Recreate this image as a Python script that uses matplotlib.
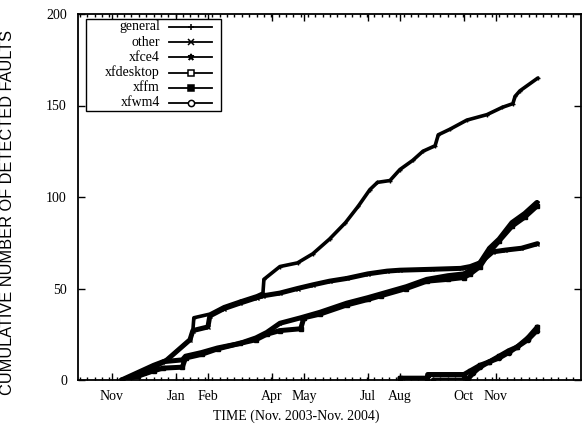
import numpy as np
import matplotlib
matplotlib.use("Agg")
import matplotlib.pyplot as plt
from matplotlib.lines import Line2D
from matplotlib.patches import Rectangle

plt.rcParams['font.family'] = ['Liberation Serif', 'DejaVu Serif']

# x values: months since Nov 1, 2003
tick_pos = [0, 2, 3, 5, 6, 8, 9, 11, 12]
tick_labels = ["Nov", "Jan", "Feb", "Apr", "May", "Jul", "Aug", "Oct", "Nov"]

names = ["general", "other", "xfce4", "xfdesktop", "xffm", "xfwm4"]
markers = ["+", "x", "*", "s", "s", "o"]
marker_fill = ["black", "black", "black", "white", "black", "white"]

general_m = [0.35, 1.0, 1.72, 2.44, 2.53, 2.56, 3.06, 3.5, 4.0, 4.53, 4.72, 4.75, 5.25, 5.8,
             6.28, 6.8, 7.3, 7.7, 8.06, 8.3, 8.69, 9.0, 9.4, 9.72, 10.1, 10.2, 10.56, 11.09,
             11.72, 12.2, 12.53, 12.6, 12.75, 13.31]
general_v = [0, 4, 11, 22, 27, 34, 36, 40, 43, 46, 47.5, 55, 62, 64, 69, 77, 86, 95, 104, 108,
             109, 115, 120, 125, 128, 134, 137, 142, 145, 149, 151, 155, 158, 165]

other_m = [0.35, 1.0, 1.72, 2.44, 2.53, 3.0, 3.06, 3.5, 4.0, 4.53, 4.72, 5.25, 5.8, 6.28, 6.8,
           7.34, 8.0, 8.6, 9.0, 10.0, 10.9, 11.2, 11.5, 11.9, 12.3, 12.8, 13.3]
other_v = [0, 4, 11, 22, 27, 29, 35, 39, 42, 45, 46, 47.5, 50, 52, 54, 55.5, 58, 59.5, 60, 60.5,
           61, 62, 64, 70, 71, 72, 74.5]

xfce4_m = [0.3, 0.8, 1.3, 1.6, 2.2, 2.3, 2.8, 3.3, 4.0, 4.5, 4.84, 5.25, 5.9, 6.5, 7.34, 8.0,
           8.4, 9.2, 9.84, 10.5, 11.0, 11.2, 11.5, 11.8, 12.1, 12.5, 12.9, 13.28]
xfce4_v = [0, 4, 8, 10, 11, 13, 15, 17.5, 20, 23, 26, 31, 34, 37, 42, 45, 47, 51, 55, 57, 58,
           60, 64, 72, 77, 86, 91, 97]

xffm_m = [0.3, 0.8, 1.3, 1.6, 2.2, 2.3, 2.8, 3.3, 4.0, 4.5, 4.84, 5.25, 5.9, 6.0, 6.5, 7.34,
          8.0, 8.4, 9.2, 9.84, 10.5, 11.0, 11.2, 11.5, 11.8, 12.1, 12.5, 12.9, 13.28]
xffm_v = [0, 2, 5, 6.5, 7, 12, 14, 17, 20, 22, 25, 27, 28, 34, 36, 41, 44, 46, 50, 54, 55, 56,
          58, 62, 70, 76, 84, 89, 95]

xfdesktop_m = [9.0, 9.85, 9.87, 11.0, 11.2, 11.5, 11.8, 12.1, 12.4, 12.66, 13.0, 13.3]
xfdesktop_v = [1, 1, 3, 3, 5, 8, 10, 13, 16, 18, 23, 29]

xfwm4_m = [10.05, 11.1, 11.3, 11.5, 11.8, 12.1, 12.4, 12.66, 13.0, 13.28]
xfwm4_v = [0, 0, 4, 7, 10, 12, 15, 18, 22, 27]

series = {
    "general": (general_m, general_v),
    "other": (other_m, other_v),
    "xfce4": (xfce4_m, xfce4_v),
    "xfdesktop": (xfdesktop_m, xfdesktop_v),
    "xffm": (xffm_m, xffm_v),
    "xfwm4": (xfwm4_m, xfwm4_v),
}

fig = plt.figure(figsize=(5.82, 4.29), dpi=100)
ax = fig.add_axes([78/582, 1-380/429, 503/582, 366/429])

for i, name in enumerate(names):
    m, v = series[name]
    lw = 2.6 if name == "general" else 3.6
    ax.plot(m, v, color="black", lw=lw, marker=markers[i], ms=3,
            mfc="black", mec="black", solid_joinstyle="round", solid_capstyle="round")

ax.set_xlim(-1.06, 14.66)
ax.set_ylim(0, 200)
ax.set_xticks(tick_pos)
ax.set_xticklabels(tick_labels)
ax.set_xticks(np.arange(-1.0, 14.6, 7/30.44), minor=True)
ax.set_yticks([0, 50, 100, 150, 200])
ax.tick_params(axis="both", which="major", direction="in", length=5, width=1,
               labelsize=10, top=True, right=True)
ax.tick_params(axis="x", which="major", pad=7)
ax.tick_params(axis="y", which="major", pad=8)
ax.tick_params(axis="x", which="minor", direction="in", length=2.5, width=1,
               top=True, bottom=True)
for s in ax.spines.values():
    s.set_linewidth(1.3)

ax.set_ylabel("CUMULATIVE NUMBER OF DETECTED FAULTS", fontsize=11.8,
              family=["Liberation Sans", "DejaVu Sans"])
ax.yaxis.set_label_coords(-0.125, 0.459)
ax.set_xlabel("TIME (Nov. 2003-Nov. 2004)", fontsize=10)
ax.xaxis.set_label_coords(0.433, -0.08)

# gnuplot-style legend (label right-aligned, sample to the right)
ax.add_patch(Rectangle((0.016, 0.735), 0.268, 0.251, transform=ax.transAxes,
                       facecolor="white", edgecolor="black", lw=1.0, zorder=5))
for i, name in enumerate(names):
    y = 0.9645 - i * 0.0415
    ax.text(0.163, y, name, transform=ax.transAxes, ha="right", va="center",
            fontsize=10, zorder=6)
    ax.add_line(Line2D([0.181, 0.266], [y, y], transform=ax.transAxes, color="black",
                       lw=1.3, zorder=6))
    ax.add_line(Line2D([0.225], [y], transform=ax.transAxes, color="black",
                       marker=markers[i], ms=5 if markers[i] != "o" else 4.5,
                       mfc=marker_fill[i], mec="black", mew=1.1, zorder=7))

fig.savefig("out.png", dpi=100)
